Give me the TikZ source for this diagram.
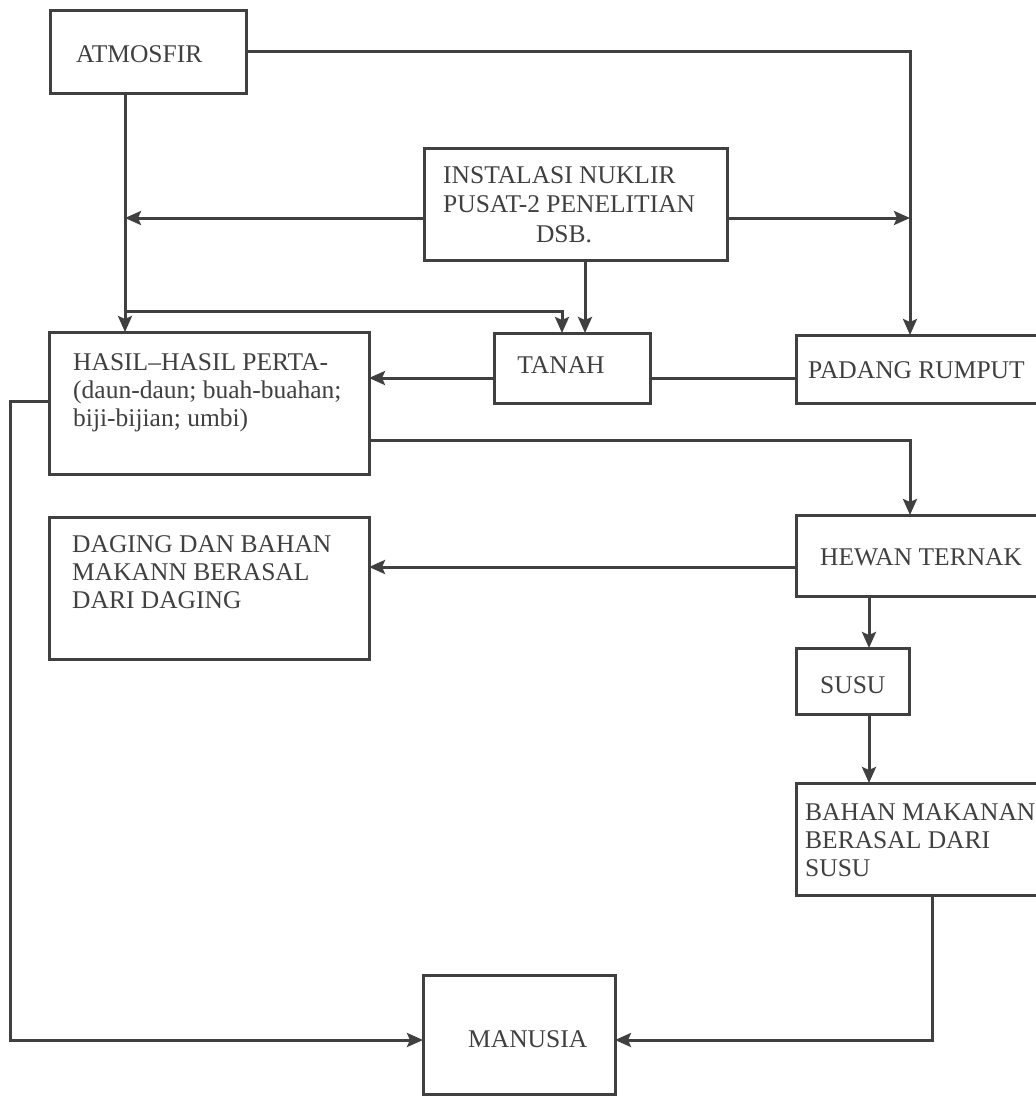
\documentclass[tikz,border=0pt]{standalone}
\usepackage{fontspec}
\setmainfont{Liberation Serif}
\usetikzlibrary{arrows.meta,calc}
\definecolor{ink}{RGB}{64,64,64}
\begin{document}
\begin{tikzpicture}[x=1pt,y=-1pt,
  box/.style={draw=ink, line width=3pt, rectangle, inner sep=0pt, outer sep=0pt},
  txt/.style={text=ink, inner sep=0pt, anchor=base west, font=\fontsize{25.5}{29}\selectfont},
  link/.style={draw=ink, line width=3pt},
  arr/.style={link, -{Stealth[length=16pt,width=14pt,inset=3pt]}},
]
\fill[white] (0,0) rectangle (1036,1096);
\useasboundingbox (0,0) rectangle (1036,1096);

% boxes
\node[box, minimum width=196pt, minimum height=83pt]  (atm)    at (148,51.5) {};
\node[box, minimum width=303pt, minimum height=112pt] (inst)   at (575.5,204) {};
\node[box, minimum width=156pt, minimum height=70pt]  (tanah)  at (572,368) {};
\node[box, minimum width=260pt, minimum height=68pt]  (pad)    at (926,369) {};
\node[box, minimum width=320pt, minimum height=142pt] (hasil)  at (209,403) {};
\node[box, minimum width=320pt, minimum height=142pt] (daging) at (209,588) {};
\node[box, minimum width=260pt, minimum height=81pt]  (hewan)  at (926,555.5) {};
\node[box, minimum width=113pt, minimum height=66pt]  (susu)   at (852.5,681) {};
\node[box, minimum width=260pt, minimum height=112pt] (bahan)  at (926,839) {};
\node[box, minimum width=192pt, minimum height=119pt] (man)    at (519,1034.5) {};

% labels
\node[txt] (atm-t) at (76,62) {ATMOSFIR};
\node[txt] (inst-1) at (443,183) {INSTALASI NUKLIR};
\node[txt] (inst-2) at (443,212) {PUSAT-2 PENELITIAN};
\node[txt, anchor=base] (inst-3) at (564,242) {DSB.};
\node[txt, anchor=base] (tanah-t) at (561,373) {TANAH};
\node[txt] (pad-t) at (808,378) {PADANG RUMPUT};
\node[txt] (hasil-1) at (73,370) {HASIL–HASIL PERTA-};
\node[txt] (hasil-2) at (73,398) {(daun-daun; buah-buahan;};
\node[txt] (hasil-3) at (73,426) {biji-bijian; umbi)};
\node[txt] (dag-1) at (72,552) {DAGING DAN BAHAN};
\node[txt] (dag-2) at (72,580) {MAKANN BERASAL};
\node[txt] (dag-3) at (72,608) {DARI DAGING};
\node[txt] (hew-t) at (820,565) {HEWAN TERNAK};
\node[txt] (susu-t) at (820,693) {SUSU};
\node[txt] (bah-1) at (805,820) {BAHAN MAKANAN};
\node[txt] (bah-2) at (805,848) {BERASAL DARI};
\node[txt] (bah-3) at (805,876) {SUSU};
\node[txt] (man-t) at (468,1047) {MANUSIA};

% routing columns and rows
\coordinate (colW) at (10,0);
\coordinate (colL) at (125,0);
\coordinate (colA) at (562,0);
\coordinate (colB) at (585,0);
\coordinate (colS) at (869,0);
\coordinate (colR) at (910,0);
\coordinate (colZ) at (932,0);
\coordinate (rowI) at (0,218);
\coordinate (rowK) at (0,311);
\coordinate (rowT) at (0,378);
\coordinate (rowP) at (0,401);
\coordinate (rowQ) at (0,440);
\coordinate (rowD) at (0,567);
\coordinate (rowM) at (0,1040);

% connectors
\draw[arr] (atm.east) -| (colR |- pad.north);
\draw[arr] (colL |- atm.south) -- (colL |- hasil.north);
\draw[arr] (rowI -| inst.west) -- (rowI -| colL);
\draw[arr] (rowI -| inst.east) -- (rowI -| colR);
\draw[arr] (colB |- inst.south) -- (colB |- tanah.north);
\draw[arr] (rowK -| colL) -| (colA |- tanah.north);
\draw[link] (rowT -| pad.west) -- (rowT -| tanah.east);
\draw[arr] (rowT -| tanah.west) -- (rowT -| hasil.east);
\draw[arr] (rowQ -| hasil.east) -| (colR |- hewan.north);
\draw[arr] (rowP -| hasil.west) -| (colW |- rowM) -- (rowM -| man.west);
\draw[arr] (rowD -| hewan.west) -- (rowD -| daging.east);
\draw[arr] (colS |- hewan.south) -- (colS |- susu.north);
\draw[arr] (colS |- susu.south) -- (colS |- bahan.north);
\draw[arr] (colZ |- bahan.south) |- (rowM -| man.east);
\end{tikzpicture}
\end{document}
